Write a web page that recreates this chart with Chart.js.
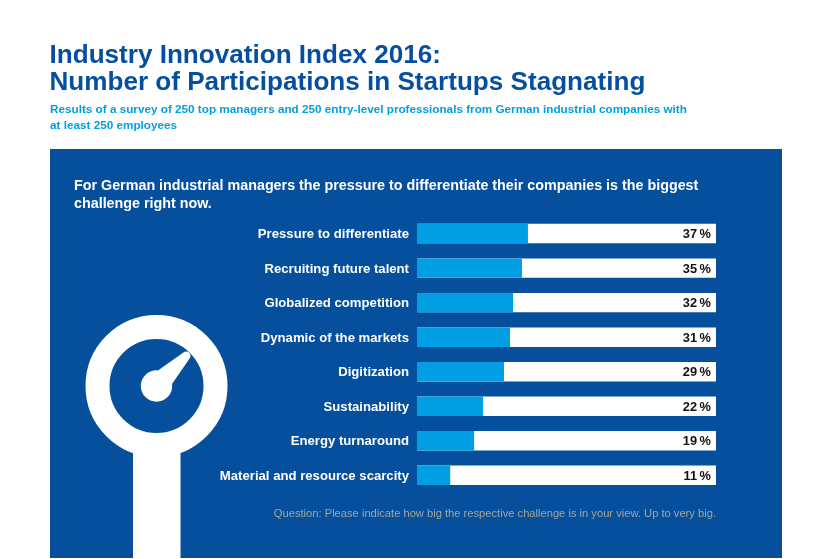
<!DOCTYPE html>
<html>
<head>
<meta charset="utf-8">
<script src="https://cdn.jsdelivr.net/npm/chart.js@4"></script>
<style>
	html, body { margin: 0; padding: 0; background: #fff; }
	body { width: 832px; height: 559px; position: relative; overflow: hidden; font-family: "Liberation Sans", Arial, sans-serif; font-weight: bold; }
	div.txt { position: absolute; white-space: nowrap; }
	#title { left: 49.5px; top: 41px; font-size: 26.1px; line-height: 27px; color: #064f9e; }
	#subtitle { left: 50px; top: 101px; font-size: 11.73px; line-height: 16px; color: #009fe3; }
	#panel { position: absolute; left: 50px; top: 149px; width: 732px; height: 409px; background: #054f9c; }
	#heading { left: 74px; top: 176px; font-size: 14.32px; line-height: 18px; color: #fff; }
	#note { right: 116px; top: 506px; font-size: 11.17px; line-height: 14px; font-weight: normal; color: #a8a598; }
	#icon { position: absolute; left: 0; top: 0; }
	#chart { position: absolute; left: 0; top: 0; }
</style>
</head>
<body>
<div id="panel"></div>
<svg id="icon" width="832" height="559">
	<circle cx="156.5" cy="386" r="59" fill="none" stroke="#fff" stroke-width="24"/>
	<rect x="133" y="440" width="47.5" height="118" fill="#fff"/>
	<circle cx="156.5" cy="386" r="15.7" fill="#fff"/>
	<path d="M158 370.4 L183 352.8 A4.2 4.2 0 0 1 189.2 359 L172 384 Z" fill="#fff"/>
</svg>
<canvas id="chart" width="832" height="559"></canvas>
<div class="txt" id="title">Industry Innovation Index 2016:<br>Number of Participations in Startups Stagnating</div>
<div class="txt" id="subtitle">Results of a survey of 250 top managers and 250 entry-level professionals from German industrial companies with<br>at least 250 employees</div>
<div class="txt" id="heading">For German industrial managers the pressure to differentiate their companies is the biggest<br>challenge right now.</div>
<div class="txt" id="note">Question: Please indicate how big the respective challenge is in your view. Up to very big.</div>
<script>
const categories = [
	"Pressure to differentiate",
	"Recruiting future talent",
	"Globalized competition",
	"Dynamic of the markets",
	"Digitization",
	"Sustainability",
	"Energy turnaround",
	"Material and resource scarcity"
];
const shares = [37, 35, 32, 31, 29, 22, 19, 11];
const fullScale = [100, 100, 100, 100, 100, 100, 100, 100];

// percent figures at the right end of each white track
const valueLabels = {
	id: "valueLabels",
	afterDatasetsDraw(chart) {
		let ctx = chart.ctx;
		let meta = chart.getDatasetMeta(0);
		let x = chart.scales.x;
		ctx.save();
		ctx.fillStyle = "#111";
		ctx.font = "bold 12.8px 'Liberation Sans', Arial, sans-serif";
		ctx.textAlign = "right";
		ctx.textBaseline = "middle";
		meta.data.forEach((bar, i) => {
			ctx.fillText(shares[i] + "\u2009%", x.getPixelForValue(100) - 5, bar.y + 1);
		});
		ctx.restore();
	}
};

new Chart(document.getElementById("chart").getContext("2d"), {
	type: "bar",
	data: {
		labels: categories,
		datasets: [
			{ data: shares, backgroundColor: "#009fe3", order: 1 },
			{ data: fullScale, backgroundColor: "#fff", order: 2 }
		]
	},
	options: {
		indexAxis: "y",
		responsive: false,
		animation: false,
		events: [],
		layout: { padding: { left: 0, right: 116, top: 216.3, bottom: 66.4 } },
		datasets: { bar: { grouped: false, barThickness: 18.8 } },
		plugins: { legend: { display: false }, tooltip: { enabled: false } },
		scales: {
			x: { display: false, min: 0, max: 100 },
			y: {
				afterFit(scale) { scale.width = 417; },
				grid: { display: false, drawTicks: false },
				border: { display: false },
				ticks: {
					color: "#fff",
					padding: 8,
					labelOffset: 1,
					autoSkip: false,
					font: { family: "'Liberation Sans', Arial, sans-serif", size: 13.15, weight: "bold" }
				}
			}
		}
	},
	plugins: [valueLabels]
});
</script>
</body>
</html>
